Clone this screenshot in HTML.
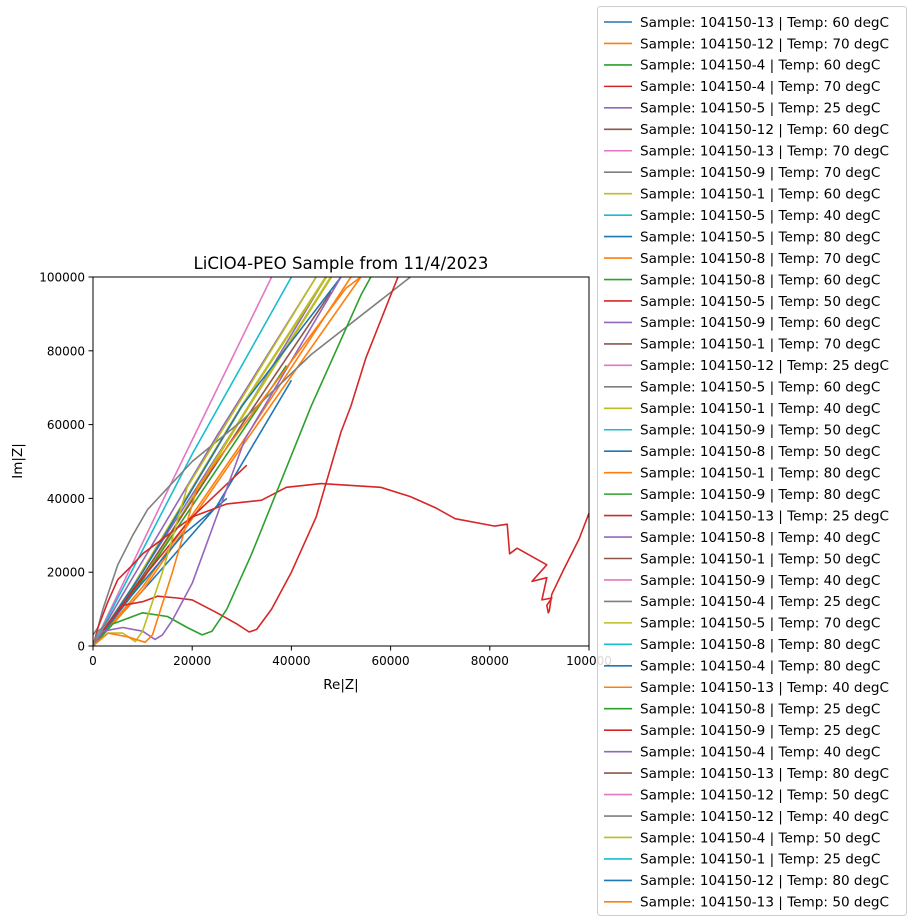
<!DOCTYPE html>
<html><head><meta charset="utf-8"><style>
body{margin:0;background:#fff;}
svg{display:block;font-family:"DejaVu Sans","Liberation Sans",sans-serif;}
</style></head><body>
<svg id="chart" width="910" height="924">
<defs><clipPath id="pc"><rect x="93" y="277" width="496" height="369"/></clipPath></defs>
<text x="341" y="269" font-size="16.6" text-anchor="middle">LiClO4-PEO Sample from 11/4/2023</text>
<g id="plot" clip-path="url(#pc)"></g>
<rect x="93" y="277" width="496" height="369" fill="none" stroke="#000" stroke-width="1"/>
<g id="xt"></g>
<g id="yt"></g>
<text x="341" y="689" font-size="13.5" text-anchor="middle">Re|Z|</text>
<text x="0" y="0" font-size="13.5" text-anchor="middle" transform="translate(22,461) rotate(-90)">Im|Z|</text>
<g id="legend"></g>
</svg>
<script>
const colors=['#1f77b4','#ff7f0e','#2ca02c','#d62728','#9467bd','#8c564b','#e377c2','#7f7f7f','#bcbd22','#17becf'];
const xTicks=[0,20000,40000,60000,80000,100000];
const yTicks=[0,20000,40000,60000,80000,100000];
const legendLabels=["104150-13 | Temp: 60 degC","104150-12 | Temp: 70 degC","104150-4 | Temp: 60 degC","104150-4 | Temp: 70 degC","104150-5 | Temp: 25 degC","104150-12 | Temp: 60 degC","104150-13 | Temp: 70 degC","104150-9 | Temp: 70 degC","104150-1 | Temp: 60 degC","104150-5 | Temp: 40 degC","104150-5 | Temp: 80 degC","104150-8 | Temp: 70 degC","104150-8 | Temp: 60 degC","104150-5 | Temp: 50 degC","104150-9 | Temp: 60 degC","104150-1 | Temp: 70 degC","104150-12 | Temp: 25 degC","104150-5 | Temp: 60 degC","104150-1 | Temp: 40 degC","104150-9 | Temp: 50 degC","104150-8 | Temp: 50 degC","104150-1 | Temp: 80 degC","104150-9 | Temp: 80 degC","104150-13 | Temp: 25 degC","104150-8 | Temp: 40 degC","104150-1 | Temp: 50 degC","104150-9 | Temp: 40 degC","104150-4 | Temp: 25 degC","104150-5 | Temp: 70 degC","104150-8 | Temp: 80 degC","104150-4 | Temp: 80 degC","104150-13 | Temp: 40 degC","104150-8 | Temp: 25 degC","104150-9 | Temp: 25 degC","104150-4 | Temp: 40 degC","104150-13 | Temp: 80 degC","104150-12 | Temp: 50 degC","104150-12 | Temp: 40 degC","104150-4 | Temp: 50 degC","104150-1 | Temp: 25 degC","104150-12 | Temp: 80 degC","104150-13 | Temp: 50 degC"];
// series: color index, x values (thousands), y values (thousands)
const sColor=[6,9,4,34,8,18,0,5,12,10,1,11,3,20,7,23,33,22,24,18,31,27];
const sX=[
[0,5,15,36],[0,5,20,40],[0,6,25,45],[0,8,30,47],[0,8,30,47],[0,10,30,48],[0,10,30,50],[0,10,30,48],[0,10,25,39],[0,12,25,40],[0,10,30,52],[0,10,30,54],[0,8,20,31],[0,8,18,27],
[0,1,2,5,8,11,20,30,44,64],
[0,1,3,5,8,10,20,27,34,39,46,58,64,69,73,81,83.5,84,85.5,91.5,88.5,91.5,90.5,92.5,91.5,91.8,92,92.5,95,98,100],
[0,3,6,10,13,17,20,25,29,31.5,33,36,40,45,50,52,55,60,61.5],
[0,4,10,15,19,22,24,27,32,38,44,49,54,56],
[0,2,6,10,12.5,14,16,20,30.6,50],
[0,3,6,8.5,10,14,19,45],
[0,3,7,10.5,12,16,21,51,54],
[0,0.5,1,2,3]];
const sY=[
[0,14,42,100],[0,13,52,100],[0,14,57,100],[0,16,62,100],[0,16,65,100],[0,18,62,100],[0,20,65,100],[0,19,60,96],[0,18,48,76],[0,18,38,72],[0,16,55,100],[0,15,54,100],[0,15,35,49],[0,14,30,40],
[3,5,10,22,30,37,50,61,79,100],
[0,5,12,18,22,25,35,38.5,39.5,43,44,43,40.5,37.5,34.5,32.5,33,25,26.5,22,17.5,18.5,12.5,13,11,9,9.5,14,21,29,36],
[0,6,11,12,13.5,13,12.5,9,6,3.8,4.5,10,20,35,58,65,78,95,100],
[0,6,9,8,5,3,4,10,25,45,65,80,95,100],
[0,4,5,4,1.8,3,7,17,56,100],
[0,3.5,3.5,1.2,4,20,43,100],
[0,3.5,2.5,1,3,20,43,97,100],
[0,2,4,5,7]];
const X0=93,X1=589,Y0=646,Y1=277;
const xs=v=>X0+(v-0)/100000*(X1-X0);
const ys=v=>Y0-(v-0)/100000*(Y0-Y1);
const NS='http://www.w3.org/2000/svg';
function mk(t,a){const e=document.createElementNS(NS,t);for(const k in a)e.setAttribute(k,a[k]);return e;}
const plot=document.getElementById('plot');
sX.forEach((xsArr,i)=>{
  const pts=xsArr.map((x,j)=>xs(x*1000).toFixed(1)+','+ys(sY[i][j]*1000).toFixed(1)).join(' ');
  const p=mk('polyline',{points:pts,fill:'none',stroke:colors[sColor[i]%10],'stroke-width':(i===4||i===5)?2.4:1.6,'stroke-linejoin':'round'});
  
  
  plot.appendChild(p);
});
const xt=document.getElementById('xt');
xTicks.forEach(v=>{
  const x=xs(v);
  const l=mk('line',{x1:x,x2:x,y1:646,y2:650.5,stroke:'#000'});
  
  
  xt.appendChild(l);
  const t=mk('text',{x:x,y:665,'font-size':'12','text-anchor':'middle'});
  t.textContent=v;
  
  
  xt.appendChild(t);
});
const yt=document.getElementById('yt');
yTicks.forEach(v=>{
  const y=ys(v);
  const l=mk('line',{x1:88.5,x2:93,y1:y,y2:y,stroke:'#000'});
  
  
  yt.appendChild(l);
  const t=mk('text',{x:85,y:y+4.5,'font-size':'12','text-anchor':'end'});
  t.textContent=v;
  
  
  yt.appendChild(t);
});
const lg=document.getElementById('legend');
const box=mk('rect',{x:597.5,y:6.5,width:309,height:909,rx:3,fill:'#fff','fill-opacity':0.85,stroke:'#cccccc'});


lg.appendChild(box);
legendLabels.forEach((s,i)=>{
  const y=22+i*21.46;
  const l=mk('line',{x1:604,x2:632,y1:y,y2:y,stroke:colors[i%10],'stroke-width':1.6});
  
  
  lg.appendChild(l);
  const t=mk('text',{x:640,y:y+4.8,'font-size':'13.6'});
  t.textContent='Sample: '+s;
  
  
  lg.appendChild(t);
});
</script>
</body></html>
